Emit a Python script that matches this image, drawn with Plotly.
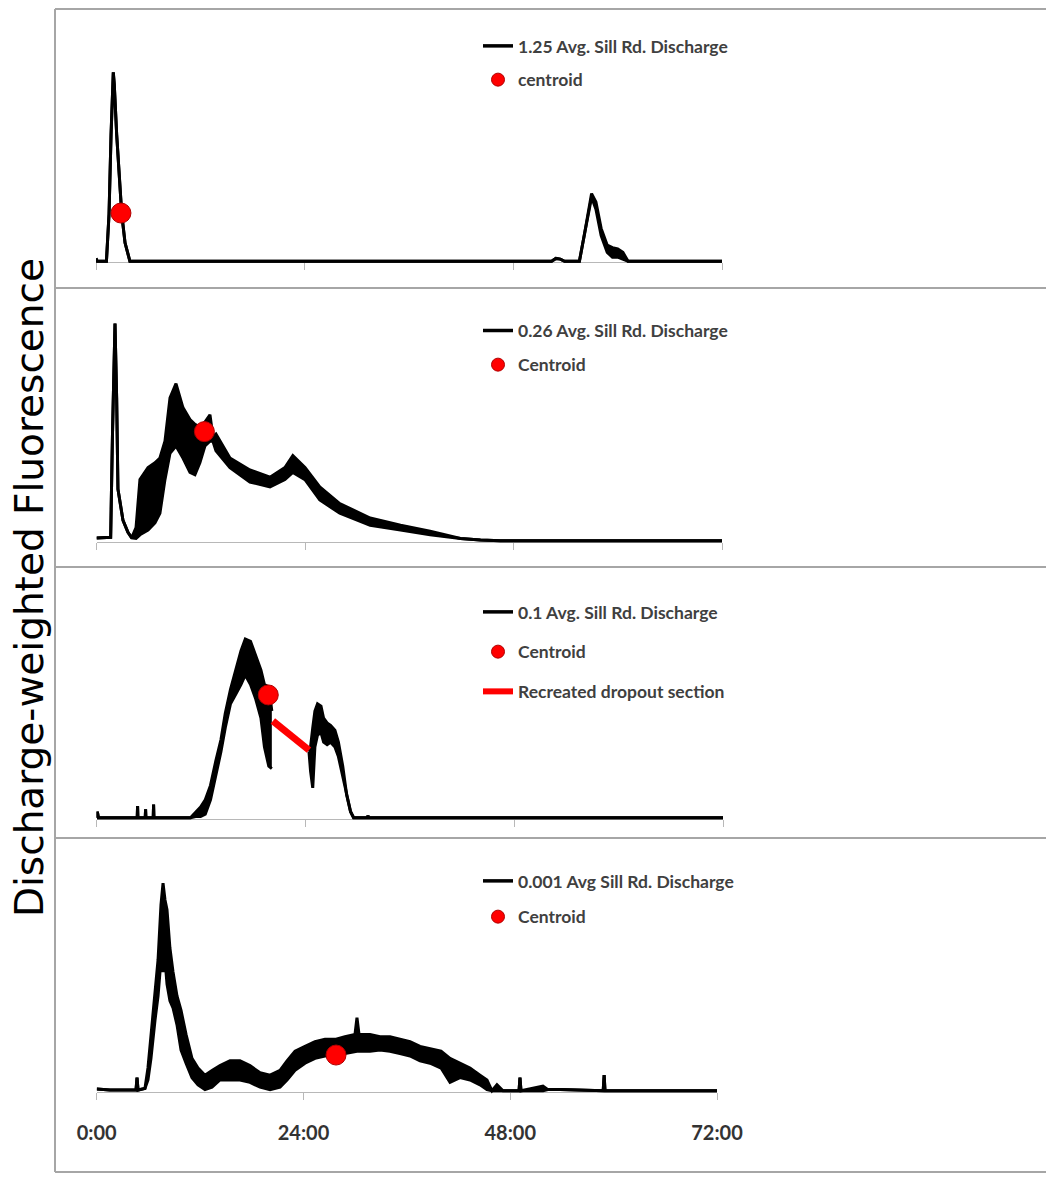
import plotly.graph_objects as go

# ---------------- data (hours since start, discharge-weighted fluorescence, arbitrary units) -------------
tick_vals = [0, 24, 48, 72]
tick_text = ["0:00", "24:00", "48:00", "72:00"]

p1_name = "1.25 Avg. Sill Rd. Discharge"
p1_t = [0.0, 0.15, 1.2, 1.5, 1.73, 1.88, 1.99, 2.1, 2.38, 2.96, 3.34, 3.9, 52.4, 52.9, 53.4, 53.9, 54.4, 55.6,
        56.2, 57.0, 57.5, 58.1, 58.8, 59.4, 60.0, 60.6, 61.2, 72.0]
p1_lo = [1.5, 0.3, 0.3, 20, 53, 74, 79, 74, 53, 20, 8, 0.3, 0.3, 1.5, 1.2, 0.3, 0.3, 0.3,
         12, 27, 22, 11, 4, 2, 2, 1, 0.3, 0.3]
p1_hi = [1.5, 0.3, 0.3, 20, 53, 74, 79, 74, 53, 20, 8, 0.3, 0.3, 1.5, 1.2, 0.3, 0.3, 0.3,
         12, 28.5, 25, 14, 7, 6, 5.5, 4, 0.3, 0.3]
p1_centroid_t = [2.87]
p1_centroid_v = [20.4]
p1_centroid_name = "centroid"

p2_name = "0.26 Avg. Sill Rd. Discharge"
p2_t = [0, 1.27, 1.63, 1.84, 2.13, 2.32, 2.47, 3.05, 3.62, 4.05,
        4.55, 5.0, 5.93, 6.73, 7.3, 7.88, 8.46, 9.15, 9.95, 10.76,
        11.33, 11.9, 12.48, 13.06, 13.4, 13.75, 15.36, 17.66, 19.97, 21.69,
        22.6, 24.0, 25.7, 28.0, 31.5, 35.0, 38.4, 41.9, 44.2, 46.5, 72]
p2_lo = [1.7, 1.7, 2, 45, 91, 60, 22, 9, 4, 1.7,
         1.5, 3, 5, 8, 12, 26, 37, 40, 35, 29,
         28, 33, 40, 42, 42, 38, 31, 25, 23, 26,
         29, 26, 17.5, 12, 7, 5, 3, 1.5, 0.8, 0.5, 0.5]
p2_hi = [1.7, 1.7, 2, 45, 91, 60, 22, 9, 4, 1.7,
         6, 26, 31, 33, 35, 42, 60, 66, 56, 51,
         49, 48, 50, 53, 44, 45, 35, 30, 27, 31,
         36, 31, 23, 16, 10, 7, 4.5, 1.5, 0.8, 0.5, 0.5]
p2_centroid_t = [12.42]
p2_centroid_v = [46]
p2_centroid_name = "Centroid"

p3_name = "0.1 Avg. Sill Rd. Discharge"
p3_t = [0, 0.1, 0.22, 4.68, 4.72, 4.76, 5.6, 5.64, 5.68, 6.52, 6.56, 6.6,
        10.8, 11.4, 11.96, 12.5, 13.1, 13.7, 14.3, 14.8,
        15.4, 16.0, 16.6, 17.1, 17.7, 18.3, 18.9, 19.3, 19.8, 20.15,
        None,
        24.42, 24.6, 24.85, 25.1, 25.4, 25.8, 26.1, 26.5, 26.9,
        27.4, 27.8, 28.3, 28.75, 29.2, 29.55, 31.15, 31.2, 31.25, 72]
p3_lo = [0.5, 3, 0.5, 0.5, 5.4, 0.5, 0.5, 4, 0.5, 0.5, 6, 0.5,
         0.5, 1, 1, 2, 8, 18, 28, 38,
         48, 52, 56, 60, 56, 50, 42, 30, 22, 21,
         None,
         28, 20, 13, 30, 35, 36, 32, 31, 32,
         30, 26, 18, 10, 3, 0.5, 0.5, 1.5, 0.5, 0.5]
p3_hi = [0.5, 3, 0.5, 0.5, 5.4, 0.5, 0.5, 4, 0.5, 0.5, 6, 0.5,
         0.5, 3, 5, 8, 14, 24, 33, 44,
         54, 62, 70, 75, 74, 68, 62, 56, 55, 45,
         None,
         28, 30, 38, 45, 48, 47, 42, 40, 39,
         37, 32, 22, 10, 3, 0.5, 0.5, 1.5, 0.5, 0.5]
p3_dropout_t = [20.27, 24.42]
p3_dropout_v = [40.8, 28.7]
p3_dropout_name = "Recreated dropout section"
p3_centroid_t = [19.74]
p3_centroid_v = [51.7]
p3_centroid_name = "Centroid"

p4_name = "0.001 Avg Sill Rd. Discharge"
p4_t = [0, 1.54, 4.56, 4.68, 4.8, 5.6, 5.95, 6.3, 6.77, 7.12,
        7.46, 7.7, 7.93, 8.16, 8.5, 8.86, 9.32, 9.79, 10.37, 11.06,
        11.76, 12.57, 13.38, 14.31, 15.47, 16.63, 17.79, 18.96, 20.12, 21.28,
        22.09, 23.02, 24.18, 25.34, 26.5, 27.78, 28.82, 29.98, 30.21, 30.45,
        31.72, 32.88, 34.04, 35.2, 36.37, 37.53, 38.69, 39.97, 41.01, 42.17,
        43.33, 44.49, 45.3, 45.88, 46.46, 47.16, 49.02, 49.13, 49.25, 51.8,
        52.38, 53.8, 58.79, 58.9, 59.0, 72]
p4_lo = [1.2, 0.8, 0.8, 6, 0.8, 1.5, 5, 14, 30, 40,
         55, 50, 55, 45, 38, 35, 28, 17.5, 12, 6,
         3, 1, 2, 5, 5, 5, 4, 2, 1, 2,
         5, 9, 12, 14, 15, 15, 16, 17, 17, 17,
         17, 17.5, 17, 16, 15, 13, 12, 10, 4, 6,
         5, 3, 1, 0.5, 0.5, 0.5, 0.5, 6, 0.5, 0.5,
         1, 1, 0.5, 7, 0.5, 0.5]
p4_hi = [1.2, 0.8, 0.8, 6, 0.8, 1.5, 10, 24, 42, 55,
         78, 87, 80, 76, 60, 50, 40, 34, 24, 14,
         10, 7, 9, 11, 13, 13, 11, 8, 7, 9,
         13, 17, 19, 21, 22, 22, 23, 24, 31, 24,
         24, 23, 23, 22, 21, 19, 18, 17, 14, 12,
         10, 7, 5, 0.5, 3, 0.5, 0.5, 6, 0.5, 2.5,
         1, 1, 0.5, 7, 0.5, 0.5]
p4_centroid_t = [27.78]
p4_centroid_v = [15.4]
p4_centroid_name = "Centroid"

y_title = "Discharge-weighted Fluorescence"

# ---------------- layout helpers ----------------
W, H = 1046, 1177


def fx(p):
    return p / W


def fy(p):
    return 1 - p / H


fig = go.Figure()

panels = [
    dict(t=p1_t, lo=p1_lo, hi=p1_hi, name=p1_name, ct=p1_centroid_t, cv=p1_centroid_v, cname=p1_centroid_name,
         base=262, x0=96, x1=722, leg_top=28, gap=8),
    dict(t=p2_t, lo=p2_lo, hi=p2_hi, name=p2_name, ct=p2_centroid_t, cv=p2_centroid_v, cname=p2_centroid_name,
         base=542, x0=96.5, x1=722, leg_top=312.5, gap=8.5),
    dict(t=p3_t, lo=p3_lo, hi=p3_hi, name=p3_name, ct=p3_centroid_t, cv=p3_centroid_v, cname=p3_centroid_name,
         base=819, x0=96.5, x1=723, leg_top=594, gap=14),
    dict(t=p4_t, lo=p4_lo, hi=p4_hi, name=p4_name, ct=p4_centroid_t, cv=p4_centroid_v, cname=p4_centroid_name,
         base=1092, x0=96.7, x1=717, leg_top=863, gap=10),
]

LINE_W = 3
for i, p in enumerate(panels):
    k = "" if i == 0 else str(i + 1)
    xa, ya = "x" + k, "y" + k
    leg = "legend" + k
    # split series at gaps
    segs, cur = [], []
    for a, b, c in zip(p["t"], p["lo"], p["hi"]):
        if a is None:
            segs.append(cur)
            cur = []
        else:
            cur.append((a, b, c))
    segs.append(cur)
    for seg in segs:
        ts = [s[0] for s in seg]
        ls = [s[1] for s in seg]
        hs = [s[2] for s in seg]
        fig.add_trace(go.Scatter(x=ts, y=ls, mode="lines", line=dict(color="black", width=LINE_W),
                                 xaxis=xa, yaxis=ya, showlegend=False, hoverinfo="skip"))
        fig.add_trace(go.Scatter(x=ts, y=hs, mode="lines", line=dict(color="black", width=LINE_W),
                                 fill="tonexty", fillcolor="black", name=p["name"],
                                 xaxis=xa, yaxis=ya, showlegend=False))
    if i == 2:
        fig.add_trace(go.Scatter(x=p3_dropout_t, y=p3_dropout_v, mode="lines",
                                 line=dict(color="#ff0000", width=7), name=p3_dropout_name,
                                 xaxis=xa, yaxis=ya, showlegend=False))
    fig.add_trace(go.Scatter(x=p["ct"], y=p["cv"], mode="markers",
                             marker=dict(size=20, color="#ff0000", line=dict(color="#b00000", width=1)),
                             name=p["cname"], xaxis=xa, yaxis=ya, showlegend=False))
    # legend entries
    fig.add_trace(go.Scatter(x=[None], y=[None], mode="lines", line=dict(color="black", width=3.5),
                             name=p["name"], legend=leg, legendgroup=f"l{i}a", xaxis=xa, yaxis=ya))
    fig.add_trace(go.Scatter(x=[None], y=[None], mode="markers",
                             marker=dict(size=13, color="#ff0000", line=dict(color="#b00000", width=1)),
                             name=p["cname"], legend=leg, legendgroup=f"l{i}b", xaxis=xa, yaxis=ya))
    if i == 2:
        fig.add_trace(go.Scatter(x=[None], y=[None], mode="lines", line=dict(color="#ff0000", width=6),
                                 name=p3_dropout_name, legend=leg, legendgroup=f"l{i}c", xaxis=xa, yaxis=ya))

    base = p["base"]
    fig.update_layout({
        "xaxis" + k: dict(domain=[fx(p["x0"]), fx(p["x1"])], range=[0, 72], anchor="free",
                          position=fy(base), showline=True, linecolor="#b8b8b8", linewidth=1,
                          ticks="outside", ticklen=7, tickwidth=1, tickcolor="#b8b8b8",
                          tickvals=tick_vals, ticktext=tick_text, showticklabels=(i == 3),
                          tickfont=dict(family="Lato", size=20, color="#333333", weight="bold"),
                          ticklabelstandoff=16, automargin=False,
                          showgrid=False, zeroline=False, layer="below traces", fixedrange=True),
        "yaxis" + k: dict(domain=[fy(base + 6), fy(base - 240)], range=[-2.5, 100], anchor=xa,
                          visible=False, automargin=False, fixedrange=True),
        leg: dict(x=fx(478), y=fy(p["leg_top"]), xanchor="left", yanchor="top",
                  bgcolor="rgba(0,0,0,0)", tracegroupgap=p["gap"], itemclick=False,
                  font=dict(family="Lato", size=17.5, color="#404040", weight="bold")),
    })

# panel frames
frame_color = "#a6a6a6"
shapes = []
for yy in [9, 288, 567, 838, 1172]:
    shapes.append(dict(type="line", xref="paper", yref="paper", x0=fx(55), x1=1.0, y0=fy(yy), y1=fy(yy),
                       line=dict(color=frame_color, width=2)))
shapes.append(dict(type="line", xref="paper", yref="paper", x0=fx(55), x1=fx(55), y0=fy(9), y1=fy(1172),
                   line=dict(color=frame_color, width=2)))

fig.update_layout(
    width=W, height=H, margin=dict(l=0, r=0, t=0, b=0, autoexpand=False),
    paper_bgcolor="white", plot_bgcolor="rgba(0,0,0,0)",
    shapes=shapes,
    annotations=[dict(text=y_title, x=fx(29), y=fy(588), xref="paper", yref="paper", showarrow=False,
                      textangle=-90, xanchor="center", yanchor="middle",
                      font=dict(family="DejaVu Sans", size=39, color="black"))],
)

fig.write_html("out.html")
